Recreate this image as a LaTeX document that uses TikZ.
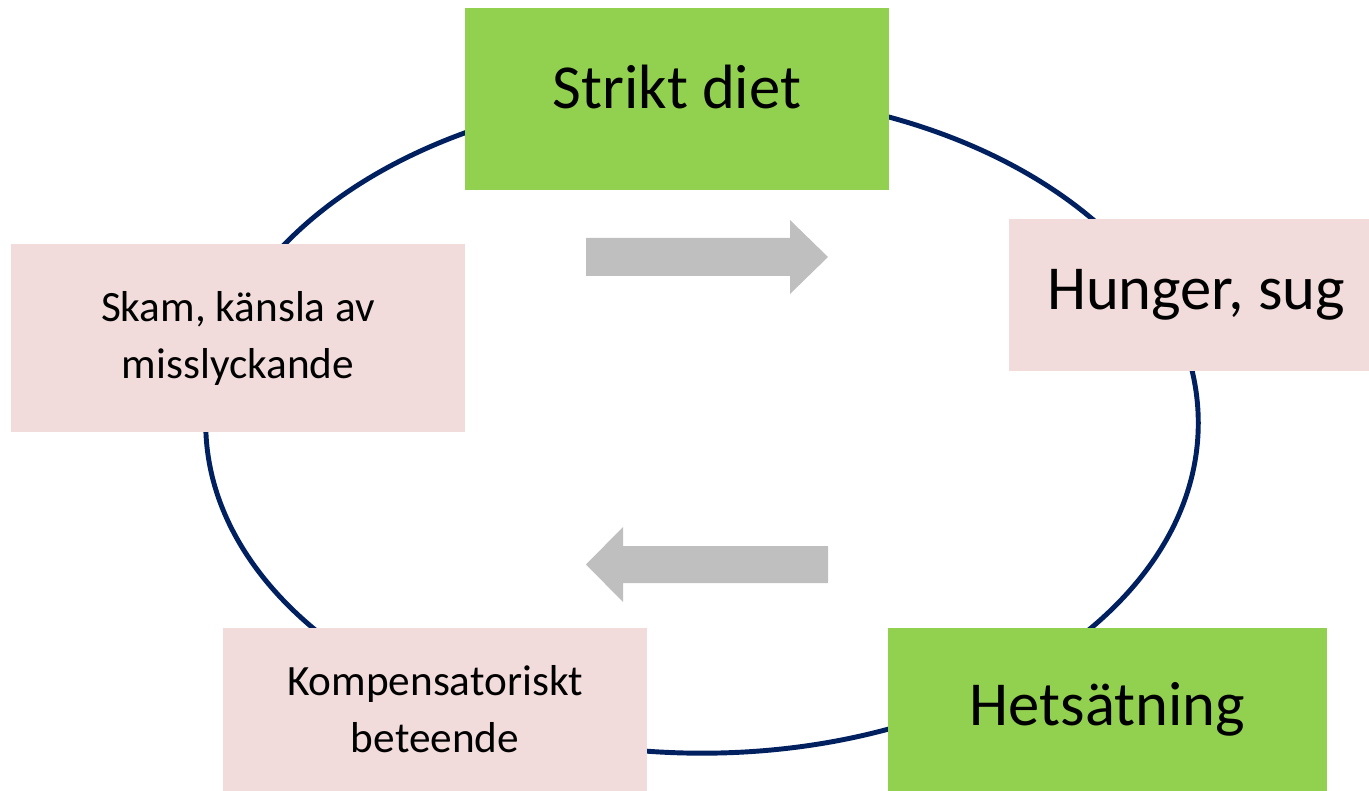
\documentclass[tikz,border=0pt]{standalone}
\usepackage{fontspec}
\setmainfont{Carlito}
\definecolor{dietgreen}{HTML}{92D050}
\definecolor{softpink}{HTML}{F2DCDB}
\definecolor{navyline}{HTML}{002060}
\definecolor{arrowgray}{HTML}{BFBFBF}
\tikzset{
	stagebox/.style={rectangle, inner sep=0pt, align=center},
	greenbox/.style={stagebox, fill=dietgreen, font=\fontsize{17.8}{22}\selectfont},
	pinkbox/.style={stagebox, fill=softpink},
	bigtext/.style={font=\fontsize{17.8}{22}\selectfont},
	smalltext/.style={font=\fontsize{12.3}{16.2}\selectfont},
	blockarrow/.style={fill=arrowgray}
}
\begin{document}
\begin{tikzpicture}[x=0.01cm,y=-0.01cm]

	% canvas
	\useasboundingbox (0,0) rectangle (1369,791);

	% cycle
	\draw[navyline, line width=1.4pt] (702,423) ellipse [x radius=4.96cm, y radius=3.3cm];

	% stages
	\node[greenbox, minimum width=4.24cm, minimum height=1.82cm, text depth=0.24cm] (diet) at (677,99) {Strikt diet};
	\node[pinkbox, bigtext, minimum width=3.74cm, minimum height=1.52cm] (hunger) at (1196,295) {Hunger, sug};
	\node[greenbox, minimum width=4.39cm, minimum height=1.63cm] (binge) at (1107.5,709.5) {Hetsätning};
	\node[pinkbox, smalltext, minimum width=4.24cm, minimum height=1.63cm] (comp) at (435,709.5) {Kompensatoriskt\\beteende};
	\node[pinkbox, smalltext, minimum width=4.54cm, minimum height=1.88cm] (shame) at (238,338) {Skam, känsla av\\misslyckande};

	% direction arrows
	\fill[blockarrow] (586,238) -- (790,238) -- (790,220) -- (828,257)
		-- (790,294) -- (790,276) -- (586,276) -- cycle;
	\fill[blockarrow] (828,546) -- (623,546) -- (623,527) -- (586,564.5)
		-- (623,602) -- (623,583) -- (828,583) -- cycle;

\end{tikzpicture}
\end{document}
